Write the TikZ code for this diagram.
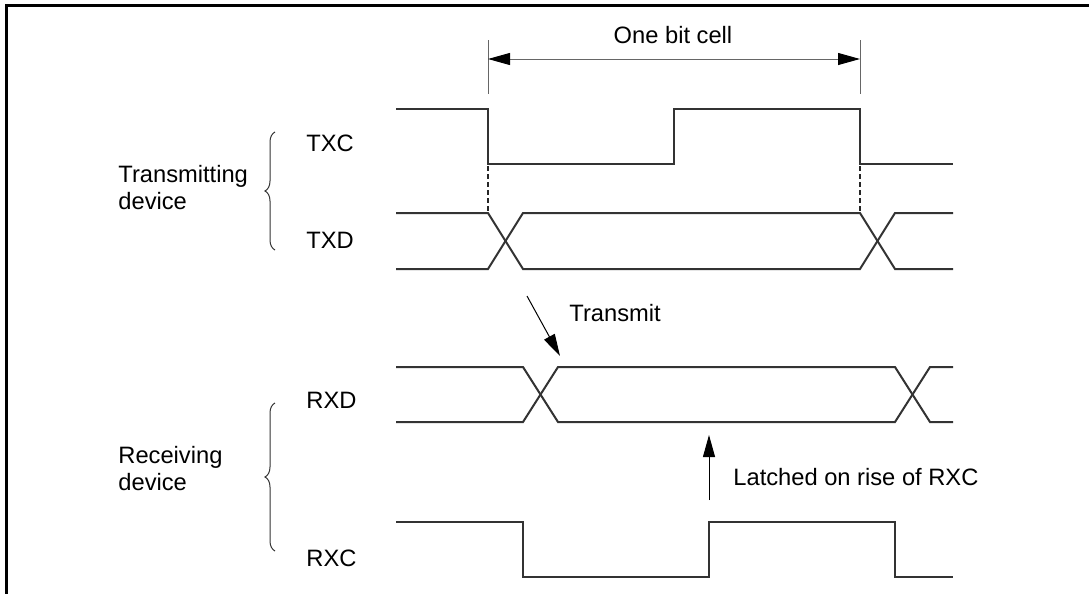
\documentclass[tikz,border=0pt]{standalone}
\usepackage{fontspec}
\setmainfont{Liberation Sans}
\usetikzlibrary{arrows.meta,decorations.pathreplacing}

\tikzset{
  sig/.style={line width=1pt, black!80},
  lbl/.style={inner sep=0pt, font=\fontsize{11.85pt}{13.5pt}\selectfont},
  dim/.style={line width=0.5pt, black!60},
  brc/.style={line width=0.5pt, black!80, decorate, decoration={brace,amplitude=5pt}}
}

\begin{document}
\begin{tikzpicture}[x=0.5pt,y=-0.5pt]
    \useasboundingbox (0,0) rectangle (1089,594);
    % Marco
    \draw[line width=1.5pt] (6.5,600) -- (6.5,5.5) -- (1095,5.5);

    % Celda de un bit
    \draw[dim] (488,40) -- (488,94);
    \draw[dim] (860,40) -- (860,94);
    \coordinate (cl) at (488,59);
    \coordinate (cr) at (860,59);
    \draw[dim, {Triangle[length=11pt,width=6pt,color=black]}-{Triangle[length=11pt,width=6pt,color=black]}] (cl) -- (cr);
    \node[lbl, anchor=base] (cell) at (673,43) {One bit cell};

    % TXC
    \draw[sig] (396,109) -- (488,109) -- (488,164) -- (674,164) -- (674,109)
        -- (860,109) -- (860,164) -- (953,164);
    \node[lbl, anchor=base west] (txc) at (306,151.5) {TXC};
    \draw[line width=0.6pt, black!85, dash pattern=on 2.5pt off 1.5pt] (488,166) -- (488,213);
    \draw[line width=0.6pt, black!85, dash pattern=on 2.5pt off 1.5pt] (860,166) -- (860,213);

    % TXD
    \draw[sig] (396,213) -- (488,213) -- (523,269) -- (860,269) -- (895,213) -- (953,213);
    \draw[sig] (396,269) -- (488,269) -- (523,213) -- (860,213) -- (895,269) -- (953,269);
    \node[lbl, anchor=base west] (txd) at (306,248.5) {TXD};

    % Transmisor
    \draw[brc] (275,250) -- (275,132);
    \node[lbl, anchor=west, align=left] (tdev) at (118,188) {Transmitting\\device};

    % Transmitir
    \coordinate (xs) at (527,296);
    \coordinate (xe) at (560,356);
    \draw[line width=0.5pt, -{Triangle[length=11pt,width=6pt,color=black]}] (xs) -- (xe);
    \node[lbl, anchor=base west] (xmit) at (569,321) {Transmit};

    % RXD
    \draw[sig] (396,367) -- (523,367) -- (558,422) -- (895,422) -- (930,367) -- (953,367);
    \draw[sig] (396,422) -- (523,422) -- (558,367) -- (895,367) -- (930,422) -- (953,422);
    \node[lbl, anchor=base west] (rxd) at (306,408.5) {RXD};

    % Latch
    \coordinate (ls) at (709,500);
    \coordinate (le) at (709,435);
    \draw[line width=0.5pt, -{Triangle[length=11pt,width=6pt,color=black]}] (ls) -- (le);
    \node[lbl, anchor=base west] (latch) at (733,485) {Latched on rise of RXC};

    % RXC
    \draw[sig] (396,522) -- (523,522) -- (523,577) -- (709,577) -- (709,522)
        -- (895,522) -- (895,577) -- (953,577);
    \node[lbl, anchor=base west] (rxc) at (306,566.5) {RXC};

    % Receptor
    \draw[brc] (275,551) -- (275,403);
    \node[lbl, anchor=west, align=left] (rdev) at (118,468.5) {Receiving\\device};
\end{tikzpicture}
\end{document}
